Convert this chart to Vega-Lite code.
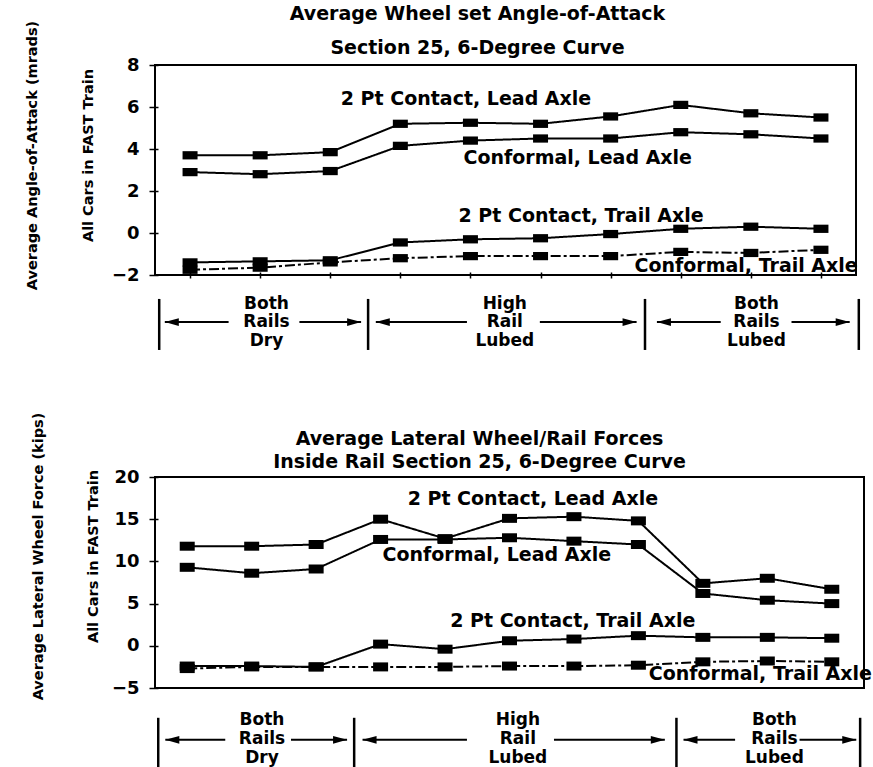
{
  "$schema": "https://vega.github.io/schema/vega-lite/v6.json",
  "background": "white",
  "padding": {"left": 23, "top": 4, "right": 0, "bottom": 0},
  "spacing": 58,
  "config": {
    "view": {"stroke": "black", "strokeWidth": 2},
    "font": "DejaVu Sans",
    "title": {"font": "DejaVu Sans", "fontSize": 19, "fontWeight": "bold", "color": "black", "anchor": "middle", "frame": "group"},
    "axis": {"labelFont": "DejaVu Sans", "titleFont": "DejaVu Sans", "labelColor": "black", "titleColor": "black", "tickColor": "black", "grid": false, "domain": false}
  },
  "datasets": {
    "aoa": [
      {"pos": 1, "series": "2pt_lead", "value": 3.7}, {"pos": 2, "series": "2pt_lead", "value": 3.7}, {"pos": 3, "series": "2pt_lead", "value": 3.85}, {"pos": 4, "series": "2pt_lead", "value": 5.2}, {"pos": 5, "series": "2pt_lead", "value": 5.25}, {"pos": 6, "series": "2pt_lead", "value": 5.2}, {"pos": 7, "series": "2pt_lead", "value": 5.55}, {"pos": 8, "series": "2pt_lead", "value": 6.1}, {"pos": 9, "series": "2pt_lead", "value": 5.7}, {"pos": 10, "series": "2pt_lead", "value": 5.5},
      {"pos": 1, "series": "conf_lead", "value": 2.9}, {"pos": 2, "series": "conf_lead", "value": 2.8}, {"pos": 3, "series": "conf_lead", "value": 2.95}, {"pos": 4, "series": "conf_lead", "value": 4.15}, {"pos": 5, "series": "conf_lead", "value": 4.4}, {"pos": 6, "series": "conf_lead", "value": 4.5}, {"pos": 7, "series": "conf_lead", "value": 4.5}, {"pos": 8, "series": "conf_lead", "value": 4.8}, {"pos": 9, "series": "conf_lead", "value": 4.7}, {"pos": 10, "series": "conf_lead", "value": 4.5},
      {"pos": 1, "series": "2pt_trail", "value": -1.4}, {"pos": 2, "series": "2pt_trail", "value": -1.35}, {"pos": 3, "series": "2pt_trail", "value": -1.3}, {"pos": 4, "series": "2pt_trail", "value": -0.45}, {"pos": 5, "series": "2pt_trail", "value": -0.3}, {"pos": 6, "series": "2pt_trail", "value": -0.25}, {"pos": 7, "series": "2pt_trail", "value": -0.05}, {"pos": 8, "series": "2pt_trail", "value": 0.2}, {"pos": 9, "series": "2pt_trail", "value": 0.3}, {"pos": 10, "series": "2pt_trail", "value": 0.2},
      {"pos": 1, "series": "conf_trail", "value": -1.75}, {"pos": 2, "series": "conf_trail", "value": -1.65}, {"pos": 3, "series": "conf_trail", "value": -1.4}, {"pos": 4, "series": "conf_trail", "value": -1.2}, {"pos": 5, "series": "conf_trail", "value": -1.1}, {"pos": 6, "series": "conf_trail", "value": -1.1}, {"pos": 7, "series": "conf_trail", "value": -1.1}, {"pos": 8, "series": "conf_trail", "value": -0.9}, {"pos": 9, "series": "conf_trail", "value": -0.95}, {"pos": 10, "series": "conf_trail", "value": -0.8}
    ],
    "aoaLabels": [
      {"pos": 3.15, "value": 6.38, "label": "2 Pt Contact, Lead Axle"},
      {"pos": 4.9, "value": 3.57, "label": "Conformal, Lead Axle"},
      {"pos": 4.83, "value": 0.81, "label": "2 Pt Contact, Trail Axle"},
      {"pos": 7.34, "value": -1.57, "label": "Conformal, Trail Axle"}
    ],
    "aoaDividers": [
      {"pos": 0.56, "value": -3.14, "value2": -5.57},
      {"pos": 3.54, "value": -3.14, "value2": -5.57},
      {"pos": 7.49, "value": -3.14, "value2": -5.57},
      {"pos": 10.54, "value": -3.14, "value2": -5.57}
    ],
    "aoaRegions": [
      {"pos": 2.09, "value": -3.36, "label": "Both\nRails\nDry"},
      {"pos": 5.49, "value": -3.36, "label": "High\nRail\nLubed"},
      {"pos": 9.08, "value": -3.36, "label": "Both\nRails\nLubed"}
    ],
    "aoaArrows": [
      {"pos": 0.64, "pos2": 1.55, "value": -4.24, "tip": 0.64, "dir": "left"},
      {"pos": 2.56, "pos2": 3.44, "value": -4.24, "tip": 3.44, "dir": "right"},
      {"pos": 3.65, "pos2": 4.95, "value": -4.24, "tip": 3.65, "dir": "left"},
      {"pos": 5.99, "pos2": 7.37, "value": -4.24, "tip": 7.37, "dir": "right"},
      {"pos": 7.66, "pos2": 8.57, "value": -4.24, "tip": 7.66, "dir": "left"},
      {"pos": 9.58, "pos2": 10.41, "value": -4.24, "tip": 10.41, "dir": "right"}
    ],
    "lat": [
      {"pos": 1, "series": "2pt_lead", "value": 11.8}, {"pos": 2, "series": "2pt_lead", "value": 11.8}, {"pos": 3, "series": "2pt_lead", "value": 12.0}, {"pos": 4, "series": "2pt_lead", "value": 15.0}, {"pos": 5, "series": "2pt_lead", "value": 12.7}, {"pos": 6, "series": "2pt_lead", "value": 15.1}, {"pos": 7, "series": "2pt_lead", "value": 15.3}, {"pos": 8, "series": "2pt_lead", "value": 14.8}, {"pos": 9, "series": "2pt_lead", "value": 7.4}, {"pos": 10, "series": "2pt_lead", "value": 8.0}, {"pos": 11, "series": "2pt_lead", "value": 6.7},
      {"pos": 1, "series": "conf_lead", "value": 9.3}, {"pos": 2, "series": "conf_lead", "value": 8.6}, {"pos": 3, "series": "conf_lead", "value": 9.1}, {"pos": 4, "series": "conf_lead", "value": 12.6}, {"pos": 5, "series": "conf_lead", "value": 12.6}, {"pos": 6, "series": "conf_lead", "value": 12.8}, {"pos": 7, "series": "conf_lead", "value": 12.4}, {"pos": 8, "series": "conf_lead", "value": 12.0}, {"pos": 9, "series": "conf_lead", "value": 6.2}, {"pos": 10, "series": "conf_lead", "value": 5.4}, {"pos": 11, "series": "conf_lead", "value": 5.0},
      {"pos": 1, "series": "2pt_trail", "value": -2.4}, {"pos": 2, "series": "2pt_trail", "value": -2.4}, {"pos": 3, "series": "2pt_trail", "value": -2.5}, {"pos": 4, "series": "2pt_trail", "value": 0.2}, {"pos": 5, "series": "2pt_trail", "value": -0.4}, {"pos": 6, "series": "2pt_trail", "value": 0.6}, {"pos": 7, "series": "2pt_trail", "value": 0.8}, {"pos": 8, "series": "2pt_trail", "value": 1.2}, {"pos": 9, "series": "2pt_trail", "value": 1.0}, {"pos": 10, "series": "2pt_trail", "value": 1.0}, {"pos": 11, "series": "2pt_trail", "value": 0.9},
      {"pos": 1, "series": "conf_trail", "value": -2.7}, {"pos": 2, "series": "conf_trail", "value": -2.5}, {"pos": 3, "series": "conf_trail", "value": -2.5}, {"pos": 4, "series": "conf_trail", "value": -2.5}, {"pos": 5, "series": "conf_trail", "value": -2.5}, {"pos": 6, "series": "conf_trail", "value": -2.4}, {"pos": 7, "series": "conf_trail", "value": -2.4}, {"pos": 8, "series": "conf_trail", "value": -2.3}, {"pos": 9, "series": "conf_trail", "value": -1.9}, {"pos": 10, "series": "conf_trail", "value": -1.8}, {"pos": 11, "series": "conf_trail", "value": -1.9}
    ],
    "latLabels": [
      {"pos": 4.42, "value": 17.4, "label": "2 Pt Contact, Lead Axle"},
      {"pos": 4.03, "value": 10.7, "label": "Conformal, Lead Axle"},
      {"pos": 5.08, "value": 2.96, "label": "2 Pt Contact, Trail Axle"},
      {"pos": 8.16, "value": -3.3, "label": "Conformal, Trail Axle"}
    ],
    "latDividers": [
      {"pos": 0.55, "value": -8.53, "value2": -15.4},
      {"pos": 3.59, "value": -8.53, "value2": -15.4},
      {"pos": 8.59, "value": -8.53, "value2": -15.4},
      {"pos": 11.44, "value": -8.53, "value2": -15.4}
    ],
    "latRegions": [
      {"pos": 2.16, "value": -8.77, "label": "Both\nRails\nDry"},
      {"pos": 6.13, "value": -8.77, "label": "High\nRail\nLubed"},
      {"pos": 10.11, "value": -8.77, "label": "Both\nRails\nLubed"}
    ],
    "latArrows": [
      {"pos": 0.66, "pos2": 1.59, "value": -11.14, "tip": 0.66, "dir": "left"},
      {"pos": 2.61, "pos2": 3.48, "value": -11.14, "tip": 3.48, "dir": "right"},
      {"pos": 3.72, "pos2": 5.34, "value": -11.14, "tip": 3.72, "dir": "left"},
      {"pos": 6.69, "pos2": 8.41, "value": -11.14, "tip": 8.41, "dir": "right"},
      {"pos": 8.70, "pos2": 9.5, "value": -11.14, "tip": 8.70, "dir": "left"},
      {"pos": 10.5, "pos2": 11.38, "value": -11.14, "tip": 11.38, "dir": "right"}
    ]
  },
  "vconcat": [
    {
      "width": 701,
      "height": 210,
      "title": {"text": ["Average Wheel set Angle-of-Attack", "Section 25, 6-Degree Curve"], "lineHeight": 34, "dx": -28, "offset": -38},
      "layer": [
        {
          "data": {"name": "aoa"},
          "mark": {"type": "line", "color": "black", "strokeWidth": 2},
          "encoding": {
            "x": {"field": "pos", "type": "quantitative", "scale": {"domain": [0.5, 10.5], "nice": false, "zero": false},
                  "axis": {"values": [1,2,3,4,5,6,7,8,9,10], "labels": false, "title": null, "ticks": true, "tickSize": 6, "tickWidth": 1.5, "offset": -3}},
            "y": {"field": "value", "type": "quantitative", "scale": {"domain": [-2, 8], "nice": false, "zero": false},
                  "axis": {"values": [-2,0,2,4,6,8], "title": ["Average Angle-of-Attack (mrads)", "All Cars in FAST Train"],
                           "titleFontSize": 14.5, "titleFontWeight": "bold", "titleLineHeight": 56, "titleAngle": -90, "titleBaseline": "middle", "titleAlign": "center", "titleX": -126, "titleY": 90,
                           "labelFontSize": 18, "labelFontWeight": "bold", "tickSize": 9, "tickWidth": 1.5, "offset": -3, "labelPadding": 10}},
            "detail": {"field": "series"},
            "strokeDash": {"field": "series", "scale": {"domain": ["2pt_lead", "conf_lead", "2pt_trail", "conf_trail"], "range": [[1, 0], [1, 0], [1, 0], [10, 3, 3, 3]]}, "legend": null}
          }
        },
        {
          "data": {"name": "aoa"},
          "mark": {"type": "point", "shape": "M-1,-0.55H1V0.55H-1Z", "filled": true, "color": "black", "opacity": 1, "size": 225},
          "encoding": {"x": {"field": "pos", "type": "quantitative"}, "y": {"field": "value", "type": "quantitative"}}
        },
        {
          "data": {"name": "aoaLabels"},
          "mark": {"type": "text", "align": "left", "baseline": "middle", "fontSize": 19, "fontWeight": "bold", "color": "black"},
          "encoding": {"x": {"field": "pos", "type": "quantitative"}, "y": {"field": "value", "type": "quantitative"}, "text": {"field": "label"}}
        },
        {
          "data": {"name": "aoaDividers"},
          "mark": {"type": "rule", "color": "black", "strokeWidth": 2.5},
          "encoding": {"x": {"field": "pos", "type": "quantitative"}, "y": {"field": "value", "type": "quantitative"}, "y2": {"field": "value2"}}
        },
        {
          "data": {"name": "aoaArrows"},
          "mark": {"type": "rule", "color": "black", "strokeWidth": 2},
          "encoding": {"x": {"field": "pos", "type": "quantitative"}, "x2": {"field": "pos2"}, "y": {"field": "value", "type": "quantitative"}}
        },
        {
          "data": {"name": "aoaArrows"},
          "mark": {"type": "point", "filled": true, "color": "black", "opacity": 1, "size": 196},
          "encoding": {"x": {"field": "tip", "type": "quantitative"}, "y": {"field": "value", "type": "quantitative"},
                       "shape": {"field": "dir", "type": "nominal", "scale": {"domain": ["left", "right"], "range": ["M0,0L2,-0.55L2,0.55Z", "M0,0L-2,-0.55L-2,0.55Z"]}, "legend": null}}
        },
        {
          "data": {"name": "aoaRegions"},
          "mark": {"type": "text", "align": "center", "baseline": "middle", "fontSize": 17, "fontWeight": "bold", "color": "black", "lineBreak": "\n", "lineHeight": 18.5},
          "encoding": {"x": {"field": "pos", "type": "quantitative"}, "y": {"field": "value", "type": "quantitative"}, "text": {"field": "label"}}
        }
      ]
    },
    {
      "width": 709,
      "height": 211,
      "title": {"text": ["Average Lateral Wheel/Rail Forces", "Inside Rail Section 25, 6-Degree Curve"], "lineHeight": 23, "dx": -30, "offset": -60},
      "layer": [
        {
          "data": {"name": "lat"},
          "mark": {"type": "line", "color": "black", "strokeWidth": 2},
          "encoding": {
            "x": {"field": "pos", "type": "quantitative", "scale": {"domain": [0.5, 11.5], "nice": false, "zero": false}, "axis": null},
            "y": {"field": "value", "type": "quantitative", "scale": {"domain": [-5, 20], "nice": false, "zero": false},
                  "axis": {"values": [-5,0,5,10,15,20], "title": ["Average Lateral Wheel Force (kips)", "All Cars in FAST Train"],
                           "titleFontSize": 14.5, "titleFontWeight": "bold", "titleLineHeight": 55, "titleAngle": -90, "titleBaseline": "middle", "titleAlign": "center", "titleX": -120, "titleY": 79,
                           "labelFontSize": 18, "labelFontWeight": "bold", "tickSize": 9, "tickWidth": 1.5, "offset": -3, "labelPadding": 10}},
            "detail": {"field": "series"},
            "strokeDash": {"field": "series", "scale": {"domain": ["2pt_lead", "conf_lead", "2pt_trail", "conf_trail"], "range": [[1, 0], [1, 0], [1, 0], [10, 3, 3, 3]]}, "legend": null}
          }
        },
        {
          "data": {"name": "lat"},
          "mark": {"type": "point", "shape": "M-1,-0.6H1V0.6H-1Z", "filled": true, "color": "black", "opacity": 1, "size": 225},
          "encoding": {"x": {"field": "pos", "type": "quantitative"}, "y": {"field": "value", "type": "quantitative"}}
        },
        {
          "data": {"name": "latLabels"},
          "mark": {"type": "text", "align": "left", "baseline": "middle", "fontSize": 19, "fontWeight": "bold", "color": "black"},
          "encoding": {"x": {"field": "pos", "type": "quantitative"}, "y": {"field": "value", "type": "quantitative"}, "text": {"field": "label"}}
        },
        {
          "data": {"name": "latDividers"},
          "mark": {"type": "rule", "color": "black", "strokeWidth": 2.5},
          "encoding": {"x": {"field": "pos", "type": "quantitative"}, "y": {"field": "value", "type": "quantitative"}, "y2": {"field": "value2"}}
        },
        {
          "data": {"name": "latArrows"},
          "mark": {"type": "rule", "color": "black", "strokeWidth": 2},
          "encoding": {"x": {"field": "pos", "type": "quantitative"}, "x2": {"field": "pos2"}, "y": {"field": "value", "type": "quantitative"}}
        },
        {
          "data": {"name": "latArrows"},
          "mark": {"type": "point", "filled": true, "color": "black", "opacity": 1, "size": 196},
          "encoding": {"x": {"field": "tip", "type": "quantitative"}, "y": {"field": "value", "type": "quantitative"},
                       "shape": {"field": "dir", "type": "nominal", "scale": {"domain": ["left", "right"], "range": ["M0,0L2,-0.55L2,0.55Z", "M0,0L-2,-0.55L-2,0.55Z"]}, "legend": null}}
        },
        {
          "data": {"name": "latRegions"},
          "mark": {"type": "text", "align": "center", "baseline": "middle", "fontSize": 17, "fontWeight": "bold", "color": "black", "lineBreak": "\n", "lineHeight": 19},
          "encoding": {"x": {"field": "pos", "type": "quantitative"}, "y": {"field": "value", "type": "quantitative"}, "text": {"field": "label"}}
        }
      ]
    }
  ]
}
